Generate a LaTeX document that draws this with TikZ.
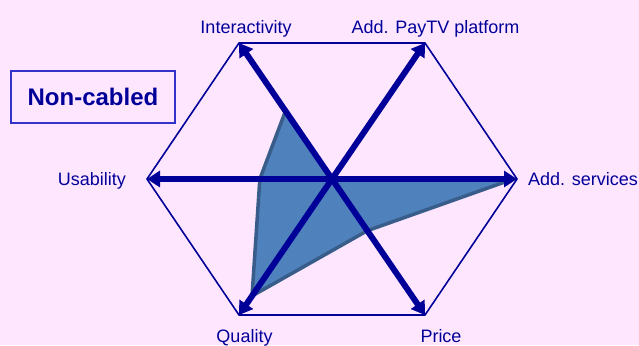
\documentclass[tikz,border=0pt]{standalone}
\usepackage{fontspec}
\setmainfont{Liberation Sans}
\usepackage{tikz}
\definecolor{navy}{RGB}{0,0,153}
\definecolor{frame}{RGB}{51,51,204}
\definecolor{pinkbg}{RGB}{255,230,255}
\definecolor{areafill}{RGB}{79,129,189}
\definecolor{areaborder}{RGB}{56,93,138}
\usetikzlibrary{calc,positioning,arrows.meta}
\tikzset{%
  axarrow/.style={line width=6pt, navy, -{Triangle[length=13pt,width=16pt]}},% axis arrow
  hexa/.style={line width=1.6pt, navy, line join=miter},% outer hexagon
  ratearea/.style={fill=areafill, draw=areaborder, line width=3.5pt, line join=round},% rating area
  axlabel/.style={inner sep=0pt, text=navy, font=\fontsize{18}{20}\selectfont},% axis label
  titlebox/.style={draw=frame, line width=1.6pt, minimum width=164pt, minimum height=52pt,
    text=navy, font=\fontsize{24}{26}\selectfont\bfseries}% title box
}

\begin{document}
\begin{tikzpicture}[x=1pt, y=-1pt]
\fill[pinkbg] (0,0) rectangle (639,345);
\useasboundingbox (0,0) rectangle (639,345);
\coordinate (c) at (332,179);
\coordinate (inter) at (239,43);
\coordinate (paytv) at (425,43);
\coordinate (serv) at (517,179);
\coordinate (price) at (425,315);
\coordinate (qual) at (239,315);
\coordinate (usab) at (147,179);

%%%% rating area
\draw[ratearea] ($(c)!0.5!(inter)$) -- (c) -- ($(c)!0.98!(serv)$) -- ($(c)!0.38!(price)$)
  -- ($(c)!0.86!(qual)$) -- ($(c)!0.39!(usab)$) -- cycle;

%%%% hexagon and axes
\draw[hexa] (inter) -- (paytv) -- (serv) -- (price) -- (qual) -- (usab) -- cycle;
\draw[axarrow] (c) -- (inter);
\draw[axarrow] (c) -- (paytv);
\draw[axarrow] (c) -- (serv);
\draw[axarrow] (c) -- (price);
\draw[axarrow] (c) -- (qual);
\draw[axarrow] (c) -- (usab);

\node[axlabel, above = 5.5pt of inter, xshift=7pt] (interlab) {Interactivity};
\node[axlabel, above = 5.5pt of paytv, xshift=10.5pt] (paytvlab) {Add. PayTV platform};
\node[axlabel, right = 11pt of serv] (servlab) {Add. services};
\node[axlabel, below = 14pt of price, xshift=16pt] (pricelab) {Price};
\node[axlabel, below = 14pt of qual, xshift=5.5pt] (quallab) {Quality};
\node[axlabel, left = 21pt of usab, yshift=-2pt] (usablab) {Usability};

\node[titlebox] (title) at (93,97) {Non-cabled};
\end{tikzpicture}
\end{document}
